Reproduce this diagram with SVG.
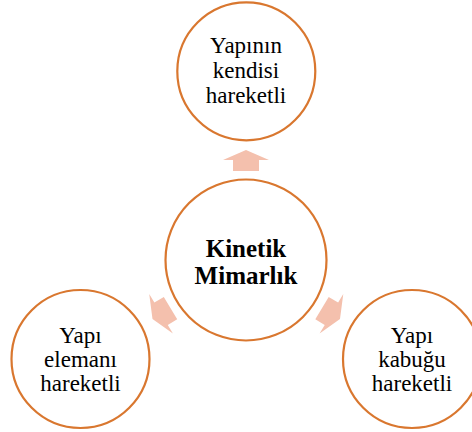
<svg xmlns="http://www.w3.org/2000/svg" width="472" height="432" viewBox="0 0 472 432">
<style>
.c{fill:#fff;stroke:#D9772F;stroke-width:2.2}
.t{font-family:"Liberation Serif","Times New Roman",serif;font-size:23px;fill:#000;text-anchor:middle}
.b{font-family:"Liberation Serif","Times New Roman",serif;font-size:25px;font-weight:bold;fill:#000;text-anchor:middle}
.a{fill:#F4C0AD}
</style>
<defs>
<path id="arr" d="M0,-10.5 L23,-0.5 L13,-0.5 L13,10.5 L-13,10.5 L-13,-0.5 L-23,-0.5 Z"/>
</defs>
<g id="connectors">
<use href="#arr" class="a" transform="translate(246,160.5)"/>
<use href="#arr" class="a" transform="translate(161.5,313.5) rotate(-121)"/>
<use href="#arr" class="a" transform="translate(331,313.5) rotate(121)"/>
</g>
<g id="center">
<circle class="c" cx="246" cy="260" r="80.5"/>
<text class="b" x="246" y="257">Kinetik</text>
<text class="b" x="246" y="284">Mimarlık</text>
</g>
<g id="top">
<circle class="c" cx="246.3" cy="71.3" r="69"/>
<text class="t" x="246" y="53">Yapının</text>
<text class="t" x="246" y="78">kendisi</text>
<text class="t" x="246" y="103">hareketli</text>
</g>
<g id="left">
<circle class="c" cx="80.5" cy="359" r="69"/>
<text class="t" x="80.5" y="343">Yapı</text>
<text class="t" x="80.5" y="367">elemanı</text>
<text class="t" x="80.5" y="391">hareketli</text>
</g>
<g id="right">
<circle class="c" cx="412" cy="359" r="69"/>
<text class="t" x="412" y="343">Yapı</text>
<text class="t" x="412" y="367">kabuğu</text>
<text class="t" x="412" y="391">hareketli</text>
</g>
</svg>
